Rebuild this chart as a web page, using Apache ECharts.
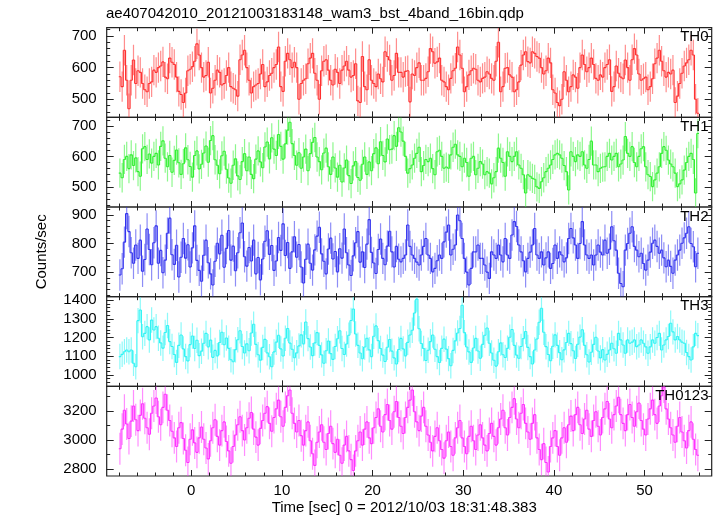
<!DOCTYPE html>
<html><head><meta charset="utf-8">
<script src="https://cdn.jsdelivr.net/npm/echarts@6/dist/echarts.min.js"></script>
<style>html,body{margin:0;padding:0;background:#fff}#c{width:717px;height:516px}</style>
</head><body><div id="c"></div>
<script>
// ---- data ----
const timeStart = -8;      // sec, start of first bin
const binWidth = 0.25;     // sec
const panelNames = ['TH0', 'TH1', 'TH2', 'TH3', 'TH0123'];

const th0 = [
571,540,655,560,470,560,624,550, 590,585,550,530,524,550,555,592,
585,600,605,618,570,565,630,617, 610,570,525,515,490,520,590,595,
603,620,675,640,600,570,575,617, 520,535,560,592,585,545,550,575,
600,540,535,530,510,625,640,655, 600,560,520,540,545,550,580,610,
540,555,575,582,600,610,665,540, 525,620,645,625,600,617,600,500,
550,560,565,612,630,645,582,560, 500,590,620,625,592,560,545,595,
585,550,592,605,620,592,570,575, 612,495,490,635,540,530,625,560,
550,540,580,565,555,650,635,624, 560,575,645,585,585,570,588,590,
492,580,575,600,615,560,560,566, 587,660,650,614,618,630,560,555,
540,530,566,590,598,665,640,598, 524,540,577,590,598,595,560,555,
566,570,587,580,566,560,620,680, 524,540,598,600,577,570,524,530,
555,608,640,650,619,615,650,645, 635,630,600,580,590,630,615,530,
520,490,480,500,587,560,524,540, 577,570,535,600,640,610,587,600,
630,610,566,560,577,570,600,610, 625,525,540,605,582,570,565,624,
600,560,625,660,640,580,560,565, 570,530,540,565,612,630,655,620,
590,570,585,580,592,490,510,550, 582,605,615,625,655,640,500,456
];
const th1 = [
545,530,590,600,560,605,570,595, 550,535,625,632,590,608,578,600,
610,572,633,651,594,566,603,548, 587,621,579,541,576,628,589,567,
532,603,618,559,574,611,634,581, 652,668,589,571,543,602,617,558,
529,512,571,592,536,524,583,609, 553,598,541,527,591,618,582,563,
631,647,592,661,624,603,672,633, 591,641,686,712,642,603,571,612,
561,598,624,553,609,646,662,598, 583,556,611,627,566,541,598,562,
532,571,516,562,588,537,511,569, 583,531,522,574,598,541,582,553,
609,628,576,648,603,582,657,622, 624,668,633,694,680,650,600,545,
560,572,594,610,630,550,570,590, 583,594,560,540,615,620,600,561,
565,561,605,630,640,605,600,566, 594,580,535,594,600,540,561,583,
575,540,550,545,510,530,550,627, 594,580,535,615,600,583,600,615,
572,561,540,480,540,535,528,525, 500,495,517,530,550,561,572,590,
605,610,605,594,570,550,490,615, 600,583,605,600,615,572,561,590,
650,572,572,550,561,565,566,600, 610,588,600,610,566,575,588,665,
610,600,632,580,566,600,625,632, 566,540,534,501,523,545,566,610,
632,620,588,575,566,545,501,510, 523,555,580,600,610,590,480,675
];
const th2 = [
690,712,805,905,842,768,731,795, 748,812,703,744,851,779,726,803,
862,731,776,698,742,836,889,761, 727,794,683,752,818,749,796,718,
785,862,741,706,668,759,812,733, 694,655,738,801,764,829,717,783,
846,742,791,705,768,838,872,754, 721,786,739,812,694,751,673,746,
808,845,762,793,706,739,821,776, 869,758,804,713,771,824,752,797,
718,662,745,798,731,707,778,826, 857,764,738,694,781,819,746,772,
701,782,749,851,768,725,688,757, 803,842,735,771,716,798,884,769,
732,695,779,816,748,726,791,843, 771,718,790,745,736,748,760,865,
790,760,748,735,725,760,790,818, 760,748,701,713,740,760,748,806,
840,865,760,780,795,900,880,818, 748,700,655,713,771,771,795,748,
748,725,700,678,771,760,748,795, 760,736,818,760,748,830,877,860,
795,771,740,701,748,770,795,853, 760,748,771,725,750,771,713,730,
795,748,771,760,736,750,818,853, 820,795,748,800,877,795,760,748,
760,725,760,795,770,760,812,766, 780,859,810,777,696,660,649,777,
800,836,859,790,777,754,766,730, 707,742,770,801,812,790,766,777,
750,719,742,720,696,742,760,777, 801,820,836,859,800,789,719,766
];
const th3 = [
1098,1110,1124,1133,1124,1133,1062,1044, 1290,1347,1204,1222,1258,1187,1293,1240,
1258,1196,1171,1143,1227,1264,1178,1152, 1109,1067,1158,1213,1139,1098,1075,1162,
1208,1141,1185,1103,1127,1169,1222,1150, 1186,1094,1131,1102,1173,1228,1161,1197,
1142,1081,1070,1135,1188,1236,1152,1117, 1166,1129,1224,1271,1163,1108,1079,1147,
1190,1118,1097,1044,1123,1175,1212,1139, 1101,1196,1248,1170,1137,1092,1118,1155,
1214,1166,1283,1194,1149,1103,1171,1226, 1158,1107,1062,1129,1181,1114,1083,1152,
1193,1236,1141,1109,1165,1212,1291,1352, 1219,1158,1117,1086,1149,1196,1134,1098,
1207,1262,1183,1141,1106,1072,1148,1189, 1127,1091,1058,1136,1195,1139,1102,1174,
1213,1239,1331,1405,1247,1168,1141,1077, 1132,1178,1213,1137,1098,1066,1142,1191,
1138,1087,1049,1131,1182,1224,1248,1372, 1226,1149,1123,1067,1144,1195,1128,1089,
1163,1212,1251,1169,1117,1078,1047,1124, 1171,1108,1093,1142,1201,1243,1158,1106,
1089,1152,1194,1232,1147,1098,1058,1133, 1192,1281,1356,1228,1151,1109,1076,1153,
1214,1158,1119,1081,1134,1173,1222,1167, 1129,1088,1164,1202,1241,1158,1108,1069,
1121,1163,1201,1128,1091,1135,1080,1110, 1133,1169,1140,1116,1222,1187,1160,1116,
1187,1169,1175,1187,1151,1160,1187,1169, 1150,1116,1150,1187,1169,1200,1222,1133,
1160,1187,1205,1276,1230,1187,1205,1187, 1175,1169,1120,1098,1080,1150,1222,1210
];
const th0123 = [
2940,3075,3205,3110,3010,3130,3235,3140, 3065,3170,3250,3150,3085,3040,3185,3235,
3290,3160,3105,3225,3315,3205,3135,3060, 3015,2955,3085,3120,3010,2930,2845,3005,
3070,2980,2915,3015,3090,3005,2945,2870, 2995,3085,3140,3025,2965,3065,3125,2990,
2925,2840,2955,3035,3105,3160,3065,3000, 3085,3150,3190,3075,3020,2965,3080,3135,
3185,3230,3115,3060,3155,3215,3275,3160, 3095,3225,3305,3345,3185,3115,3055,3135,
3030,2965,3065,3125,2995,2905,2825,2985, 3055,3105,2985,2935,3045,3095,2975,2915,
3005,2895,2840,2965,3025,2925,2865,2790, 2925,2995,3055,2965,3075,3125,3015,2975,
3085,3155,3215,3095,3055,3175,3245,3135, 3075,3195,3265,3155,3095,3045,3155,3225,
3275,3345,3195,3125,3065,3165,3225,3095, 3035,2985,2925,3025,3085,2995,2935,2875,
2995,3055,2955,2895,3015,3085,3135,3015, 2955,2905,3025,3095,2995,2935,3035,3105,
3015,2965,2925,3045,3115,3025,2965,3085, 3145,3205,3085,3035,3155,3225,3285,3145,
3085,3185,3245,3115,3055,3005,3115,3175, 3015,2935,2865,2975,2845,2780,2955,3015,
3065,2955,2895,3015,3085,2985,3105,3165, 3065,3175,3225,3105,3045,3145,3205,3075,
3025,3135,3195,3095,3035,3155,3215,3265, 3145,3085,3175,3235,3295,3175,3115,3065,
3175,3245,3155,3095,3195,3255,3135,3075, 3035,3145,3215,3275,3175,3115,3235,3305,
3365,3215,3145,3085,3035,2985,3095,3155, 3055,2995,2945,3065,3125,3005,2935,2895
];
const seriesValues = [th0, th1, th2, th3, th0123];
const errHalf = [48, 48, 55, 68, 110];           // 1-sigma error bar half-length (counts/sec)

// axes
const xMin = -9.33, xMax = 57.4;
const xMajorTicks = [0, 10, 20, 30, 40, 50];
const xMinorStep = 2;
const yMin = [443, 434, 614, 939, 2752];
const yMax = [726, 728, 928, 1418, 3370];
const yMajorTicks = [[500,600,700],[500,600,700],[700,800,900],[1000,1100,1200,1300,1400],[2800,3000,3200]];
const yMinorStep = [20, 20, 20, 20, 100];

const titleText = 'ae407042010_20121003183148_wam3_bst_4band_16bin.qdp';
const xName = 'Time [sec] 0 = 2012/10/03 18:31:48.383';
const yName = 'Counts/sec';

// ---- styles / layout ----
const FONT = '"Liberation Sans", Arial, Helvetica, sans-serif';
const colors = ['#ff3030', '#30f030', '#3030ee', '#30f4f4', '#ff30ff'];
const panelTop = 27.7, panelH = 89.66, gridLeft = 106.7, gridRight = 5.3;

function stepTicks(a, b, s) {
  const out = [];
  for (let v = Math.ceil(a / s) * s; v <= b + 1e-9; v += s) out.push(Math.round(v * 1000) / 1000);
  return out;
}
const xMinorTicks = stepTicks(xMin, xMax, xMinorStep);
const plain = v => String(Math.round(v));

const grids = [], xAxes = [], yAxes = [], series = [], titles = [];
titles.push({text: titleText, left: 106, top: 6, padding: 0,
  textStyle: {fontSize: 15, fontWeight: 'normal', color: '#000', fontFamily: FONT}});

function xAx(k, pos, ticks, len, showLabel, extra) {
  return Object.assign({
    type: 'value', gridIndex: k, min: xMin, max: xMax, position: pos,
    axisLine: {show: false, onZero: false}, splitLine: {show: false},
    axisTick: {show: true, inside: true, length: len, customValues: ticks, lineStyle: {color: '#222', width: 1}},
    axisLabel: {show: showLabel, customValues: ticks, formatter: plain, color: '#000', fontSize: 15, fontFamily: FONT, margin: 7}
  }, extra || {});
}
function yAx(k, pos, ticks, len, showLabel, extra) {
  return Object.assign({
    type: 'value', gridIndex: k, min: yMin[k], max: yMax[k], position: pos,
    axisLine: {show: false, onZero: false}, splitLine: {show: false},
    axisTick: {show: true, inside: true, length: len, customValues: ticks, lineStyle: {color: '#222', width: 1}},
    axisLabel: {show: showLabel, customValues: ticks, formatter: plain, color: '#000', fontSize: 15, fontFamily: FONT, margin: 10}
  }, extra || {});
}

// each bin: light error bar, horizontal bin segment, step connector to previous bin
function makeRender(color) {
  return function (params, api) {
    const t = api.value(0), v = api.value(1), e = api.value(2), pv = api.value(3);
    const cs = params.coordSys;
    const clampY = y => Math.max(cs.y, Math.min(cs.y + cs.height, y));
    const pL = api.coord([t - binWidth / 2, v]);
    const pR = api.coord([t + binWidth / 2, v]);
    const pT = api.coord([t, v + e]);
    const pB = api.coord([t, v - e]);
    const children = [{
      type: 'line',
      shape: {x1: pT[0], y1: clampY(pT[1]), x2: pB[0], y2: clampY(pB[1])},
      style: {stroke: color, lineWidth: 1.2, opacity: 0.55}
    }];
    const yv = clampY(pL[1]);
    children.push({type: 'line', shape: {x1: pL[0], y1: yv, x2: pR[0], y2: yv},
      style: {stroke: color, lineWidth: 1.1}});
    if (!isNaN(pv)) {
      const pP = api.coord([t - binWidth / 2, pv]);
      children.push({type: 'line', shape: {x1: pL[0], y1: clampY(pP[1]), x2: pL[0], y2: yv},
        style: {stroke: color, lineWidth: 1.1}});
    }
    return {type: 'group', children: children};
  };
}

for (let k = 0; k < 5; k++) {
  const top = panelTop + k * panelH;
  grids.push({left: gridLeft, right: gridRight, top: top, height: panelH, show: true,
    borderColor: '#222', borderWidth: 1.2, backgroundColor: 'transparent'});
  const last = k === 4;
  xAxes.push(xAx(k, 'bottom', xMajorTicks, 6, last, last ? {
    name: xName, nameLocation: 'middle', nameGap: 24,
    nameTextStyle: {fontSize: 15, color: '#000', fontFamily: FONT, padding: [0, 10, 0, 0]}} : {}));
  xAxes.push(xAx(k, 'bottom', xMinorTicks, 3.5, false));
  xAxes.push(xAx(k, 'top', xMajorTicks, 6, false));
  xAxes.push(xAx(k, 'top', xMinorTicks, 3.5, false));
  const minor = stepTicks(yMin[k], yMax[k], yMinorStep[k]);
  yAxes.push(yAx(k, 'left', yMajorTicks[k], 7, true, k === 2 ? {
    name: yName, nameLocation: 'middle', nameGap: 57,
    nameTextStyle: {fontSize: 15, color: '#000', fontFamily: FONT}} : {}));
  yAxes.push(yAx(k, 'left', minor, 3.5, false));
  yAxes.push(yAx(k, 'right', yMajorTicks[k], 7, false));
  yAxes.push(yAx(k, 'right', minor, 3.5, false));

  const vals = seriesValues[k];
  series.push({
    type: 'custom', name: panelNames[k], xAxisIndex: 4 * k, yAxisIndex: 4 * k,
    dimensions: ['t', 'v', 'err', 'prev'],
    data: vals.map((v, i) => [timeStart + binWidth * (i + 0.5), v, errHalf[k], i > 0 ? vals[i - 1] : NaN]),
    encode: {x: 0, y: 1},
    renderItem: makeRender(colors[k]), silent: true, animation: false, clip: true
  });
  titles.push({text: panelNames[k], right: 8.5, top: top + 2, padding: 0,
    textStyle: {fontSize: 15, fontWeight: 'normal', color: '#000', fontFamily: FONT}});
}

const chart = echarts.init(document.getElementById('c'), null, {renderer: 'canvas'});
chart.setOption({
  backgroundColor: '#fff', animation: false,
  title: titles, grid: grids, xAxis: xAxes, yAxis: yAxes, series: series
});
</script></body></html>
